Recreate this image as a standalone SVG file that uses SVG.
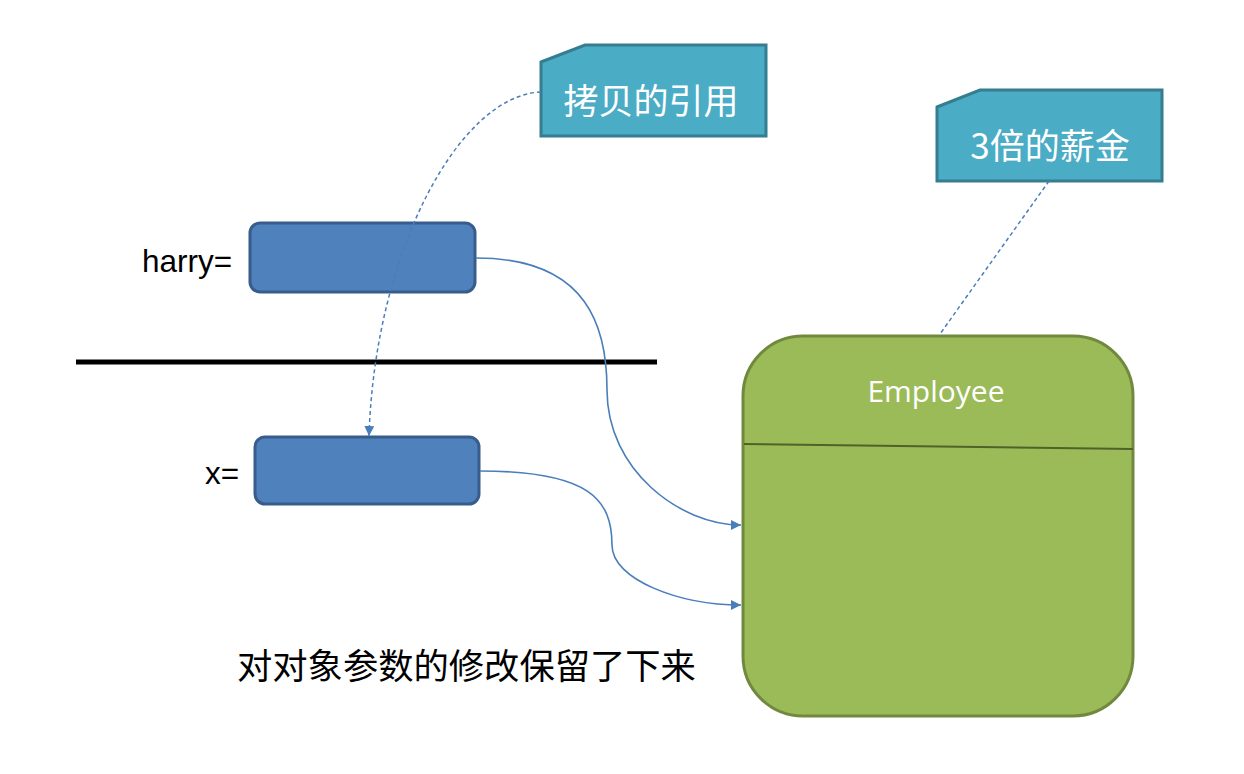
<svg xmlns="http://www.w3.org/2000/svg" width="1244" height="774" viewBox="0 0 1244 774">
<style>
.box{fill:#4f81bd;stroke:#385d8a;stroke-width:3}
.callout{fill:#4bacc6;stroke:#357d8f;stroke-width:3}
.ctext{font-family:"Noto Sans CJK SC","Noto Sans",sans-serif;font-size:35px;fill:#ffffff;text-anchor:middle}
.lbl{font-family:"Liberation Sans",Arial,sans-serif;font-size:31.5px;fill:#000000}
.conn{fill:none;stroke:#4a7ebb;stroke-width:1.6}
.dash{fill:none;stroke:#4a7ebb;stroke-width:1.5;stroke-dasharray:4 3}
</style>
<defs>
<marker id="arr" viewBox="0 0 10 10" refX="10" refY="5" markerWidth="10" markerHeight="10" markerUnits="userSpaceOnUse" orient="auto">
<path d="M0,0 L10,5 L0,10 z" fill="#4a7ebb"/>
</marker>
</defs>
<rect width="1244" height="774" fill="#ffffff"/>
<g id="divider">
<line x1="76" y1="362" x2="657" y2="362" stroke="#000" stroke-width="5"/>
</g>
<g id="employee">
<rect x="743" y="336" width="390" height="380" rx="60" ry="60" fill="#9bbb59" stroke="#71893f" stroke-width="3"/>
<line x1="744" y1="444" x2="1133" y2="449" stroke="#4f6228" stroke-width="2"/>
<text x="936" y="402" font-family="'Open Sans','Noto Sans',sans-serif" font-size="30" font-weight="500" fill="#ffffff" text-anchor="middle">Employee</text>
</g>
<g id="harry">
<rect class="box" x="250" y="223" width="225" height="69" rx="10" ry="10"/>
<text class="lbl" x="142" y="272">harry=</text>
</g>
<g id="x">
<rect class="box" x="255" y="437" width="224" height="67" rx="10" ry="10"/>
<text class="lbl" x="205" y="484">x=</text>
</g>
<g id="callout-copy">
<path class="callout" d="M541,62 L585,45 L766,45 L766,136 L541,136 Z"/>
<text class="ctext" x="651" y="114">拷贝的引用</text>
</g>
<g id="callout-salary">
<path class="callout" d="M937,107 L980,90 L1162,90 L1162,181 L937,181 Z"/>
<text class="ctext" x="1050" y="159">3倍的薪金</text>
</g>
<g id="caption">
<text x="237" y="679" font-family="'Noto Sans CJK SC',sans-serif" font-size="35.3" fill="#000">对对象参数的修改保留了下来</text>
</g>
<g id="connectors">
<path class="conn" d="M476,258 C590,258 607,330 607,390 C607,470 680,525 741,525" marker-end="url(#arr)"/>
<path class="conn" d="M480,471 C590,471 612,500 612,545 C612,580 680,605 741,605" marker-end="url(#arr)"/>
<path class="dash" d="M541,92 C460,95 375,250 369,436" marker-end="url(#arr)"/>
<path class="dash" d="M1049,181 L940,334"/>
</g>
</svg>
